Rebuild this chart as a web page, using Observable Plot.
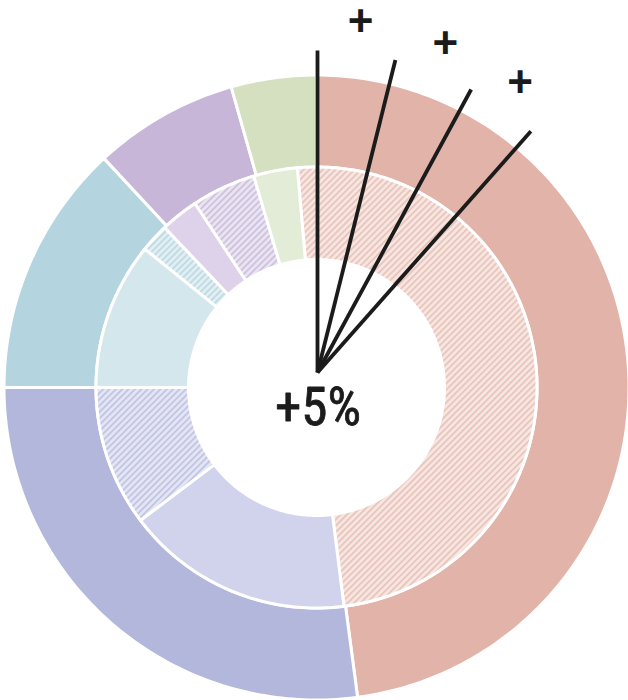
<!DOCTYPE html>
<html>
<head>
<meta charset="utf-8">
<script src="https://cdn.jsdelivr.net/npm/d3@7"></script>
<script src="https://cdn.jsdelivr.net/npm/@observablehq/plot@0.6"></script>
<style>
  html, body { margin: 0; padding: 0; background: #fff; }
  #chart svg { display: block; }
</style>
</head>
<body>
<div id="chart"></div>
<script>
// Outer ring: share of the full circle (%), clockwise from 12 o'clock
const outerKeys = ["A", "B", "C", "D", "E"];
const outerShares = [47.9, 27.1, 13.1, 7.5, 4.4];

// Inner ring: each group split into a solid and a hatched part
const innerKeys = ["A hatched", "B solid", "B hatched", "C solid", "C hatched", "D solid", "D hatched", "E solid"];
const innerShares = [49.4, 16.7, 10.3, 10.8, 2.1, 2.8, 4.7, 3.2];
const innerStartDeg = -5;

// Fan of change indicators (degrees clockwise from 12 o'clock)
const fanAngles = [0, 14, 28.5, 41.5];
const fanSigns = ["+", "+", "+"];
const centerLabel = "+5%";

// Fill for every ring segment (patterns are defined below)
const segmentKeys = [...outerKeys, ...innerKeys];
const segmentFills = [
  "#e2b4a9", "#b3b7dc", "#b4d4df", "#c7b6d7", "#d4e0bf",
  "url(#hatch-a)", "#d1d3ec", "url(#hatch-b)", "#d4e7ec",
  "url(#hatch-c)", "#ddd2e9", "url(#hatch-d)", "#e3ecd6"
];

// Ring geometry in plot units
const R_HOLE = 128, R_MID = 220.5, R_OUT = 312.5;
const FAN_ORIGIN = [1, 15], FAN_LEN = 322, SIGN_R = 353;

const rad = d => d * Math.PI / 180;

// Build closed annular-sector outlines from the shares
function ringSectors(keys, shares, startDeg, r0, r1) {
  const pts = [];
  let a = startDeg;
  keys.forEach((key, i) => {
    const a0 = a, a1 = a + shares[i] * 3.6;
    a = a1;
    const n = Math.max(2, Math.ceil(a1 - a0));
    for (let j = 0; j <= n; j++) {
      const t = rad(a0 + (a1 - a0) * j / n);
      pts.push({key, x: r1 * Math.sin(t), y: r1 * Math.cos(t)});
    }
    for (let j = n; j >= 0; j--) {
      const t = rad(a0 + (a1 - a0) * j / n);
      pts.push({key, x: r0 * Math.sin(t), y: r0 * Math.cos(t)});
    }
  });
  return pts;
}

const outerPts = ringSectors(outerKeys, outerShares, 0, R_MID, R_OUT);
const innerPts = ringSectors(innerKeys, innerShares, innerStartDeg, R_HOLE, R_MID);

const signAngles = fanSigns.map((s, i) => (fanAngles[i] + fanAngles[i + 1]) / 2);

const chart = Plot.plot({
  width: 628,
  height: 700,
  margin: 0,
  x: {domain: [-316, 312], axis: null},
  y: {domain: [-313, 387], axis: null},
  color: {type: "ordinal", domain: segmentKeys, range: segmentFills},
  marks: [
    Plot.line(outerPts, {x: "x", y: "y", z: "key", fill: "key", stroke: "white", strokeWidth: 3, curve: "linear-closed"}),
    Plot.line(innerPts, {x: "x", y: "y", z: "key", fill: "key", stroke: "white", strokeWidth: 3, curve: "linear-closed"}),
    Plot.link(fanAngles, {
      x1: () => FAN_ORIGIN[0], y1: () => FAN_ORIGIN[1],
      x2: a => FAN_ORIGIN[0] + FAN_LEN * Math.sin(rad(a)),
      y2: a => FAN_ORIGIN[1] + FAN_LEN * Math.cos(rad(a)),
      stroke: "#1b1b1b", strokeWidth: 3.8, strokeLinecap: "butt"
    }),
    Plot.text(fanSigns, {
      x: (s, i) => FAN_ORIGIN[0] + SIGN_R * Math.sin(rad(signAngles[i])),
      y: (s, i) => FAN_ORIGIN[1] + SIGN_R * Math.cos(rad(signAngles[i])),
      text: d => d, fontSize: 44, fontWeight: "bold", fill: "#1b1b1b",
      fontFamily: "Liberation Sans, Arial, sans-serif", lineAnchor: "middle"
    }),
    Plot.text([centerLabel], {
      x: 1.5, y: -21, text: d => d, fontSize: 53, fill: "#1b1b1b",
      stroke: "#1b1b1b", strokeWidth: 0.8,
      fontFamily: "Liberation Sans Narrow, Arial Narrow, Roboto Condensed, Roboto, sans-serif",
      lineAnchor: "middle"
    })
  ]
});

// Diagonal hatch patterns for the inner ring
const hatches = [
  {id: "hatch-a", bg: "#f7e6e1", line: "#e8c4bb"},
  {id: "hatch-b", bg: "#e5e6f4", line: "#c0c3e3"},
  {id: "hatch-c", bg: "#e2eff3", line: "#bddae3"},
  {id: "hatch-d", bg: "#ebe4f2", line: "#cdc1de"}
];
const defs = d3.select(chart).insert("defs", ":first-child");
for (const h of hatches) {
  const p = defs.append("pattern")
    .attr("id", h.id)
    .attr("patternUnits", "userSpaceOnUse")
    .attr("width", 4.5).attr("height", 4.5)
    .attr("patternTransform", "rotate(45)");
  p.append("rect").attr("width", 4.5).attr("height", 4.5).attr("fill", h.bg);
  p.append("line").attr("x1", 1).attr("y1", 0).attr("x2", 1).attr("y2", 4.5)
    .attr("stroke", h.line).attr("stroke-width", 1.8);
}

document.getElementById("chart").appendChild(chart);
</script>
</body>
</html>
